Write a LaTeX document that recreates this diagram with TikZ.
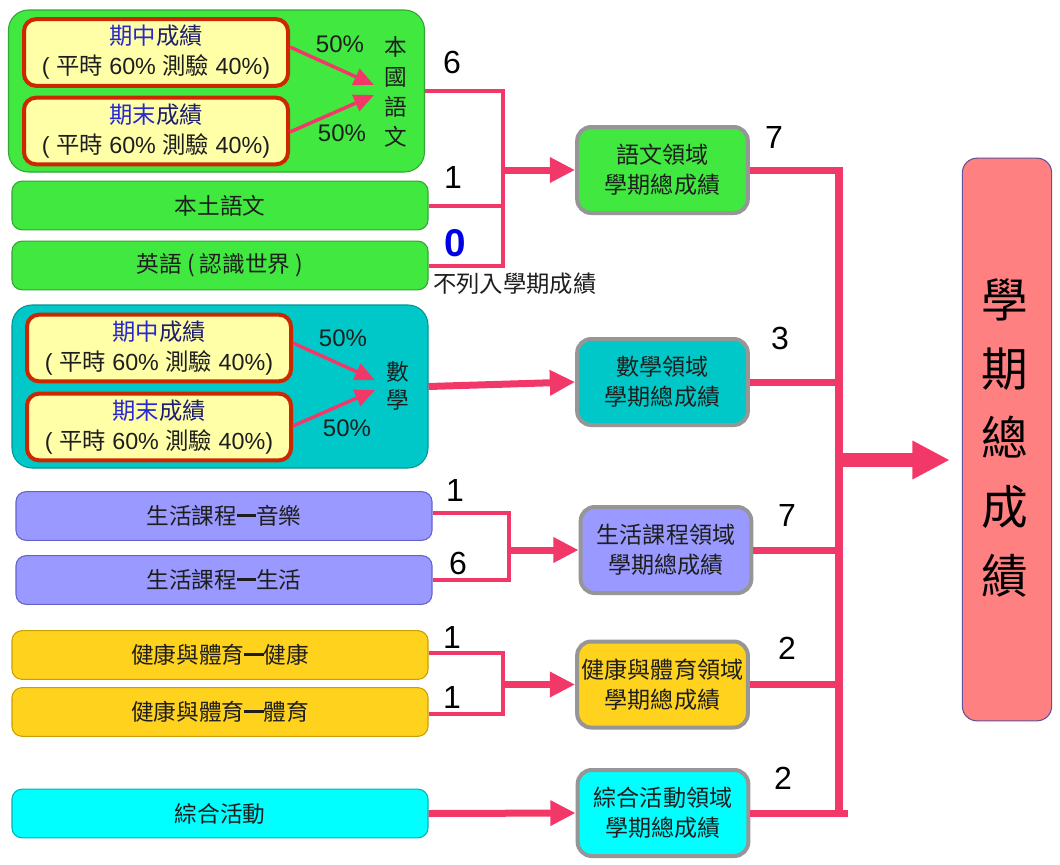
\documentclass[tikz,border=0pt]{standalone}
\usepackage{fontspec}
\setmainfont{Liberation Sans}
\newfontfamily\cjk{Noto Sans CJK TC}
\usetikzlibrary{arrows.meta,calc}
\newcommand{\C}[1]{{\cjk #1}}
\newcommand{\cdash}{\rule[0.33em]{0.85em}{0.13em}}
\definecolor{pk}{RGB}{242,56,104}
\definecolor{grn}{RGB}{64,232,64}
\definecolor{grnb}{RGB}{50,165,50}
\definecolor{teal1}{RGB}{0,200,200}
\definecolor{tealb}{RGB}{0,150,150}
\definecolor{lav}{RGB}{153,153,255}
\definecolor{lavb}{RGB}{100,100,200}
\definecolor{gold1}{RGB}{255,210,30}
\definecolor{goldb}{RGB}{200,160,0}
\definecolor{cyn}{RGB}{0,255,255}
\definecolor{cynb}{RGB}{0,180,180}
\definecolor{ylw}{RGB}{255,255,168}
\definecolor{redb}{RGB}{204,40,0}
\definecolor{grayb}{RGB}{150,150,150}
\definecolor{pinkbox}{RGB}{255,128,128}
\definecolor{pinkb}{RGB}{100,80,150}
\definecolor{txt}{RGB}{30,30,30}
\definecolor{blueA}{RGB}{40,40,210}
\definecolor{navyA}{RGB}{30,30,110}
\definecolor{zeroblue}{RGB}{0,0,230}
\newcommand{\gtitle}[2]{{\cjk\color{blueA}#1\color{navyA}#2}}
\begin{document}
\begin{tikzpicture}[x=0.75pt,y=-0.75pt,
  grp/.style={rounded corners=15pt, line width=0.8pt, minimum width=312pt, minimum height=121.5pt, inner sep=0pt},
  row/.style={rounded corners=7.5pt, line width=0.8pt, minimum width=312pt, minimum height=36.5pt, inner sep=0pt, text=txt, font=\fontsize{17}{20}\selectfont\cjk},
  ybox/.style={draw=redb, line width=3pt, fill=ylw, rounded corners=9pt, minimum width=198pt, minimum height=50pt, inner sep=0pt, align=center, text=txt, font=\fontsize{17.5}{22.5}\selectfont},
  dbox/.style={draw=grayb, line width=3pt, rounded corners=10.5pt, minimum width=128pt, minimum height=64.5pt, inner sep=0pt, align=center, text=txt, font=\fontsize{17.3}{22.5}\selectfont\cjk},
  pct/.style={font=\fontsize{18}{18}\selectfont, text=txt},
  vtxt/.style={align=center, text=txt, font=\fontsize{17}{22.5}\selectfont\cjk},
  num/.style={font=\fontsize{24}{24}\selectfont, text=black},
  brk/.style={draw=pk, line width=3pt},
  arr/.style={draw=pk, line width=5.25pt, -{Triangle[length=19pt,width=18pt]}},
  iarr/.style={draw=pk, line width=2.6pt, -{Triangle[length=15pt,width=13pt]}},
  outl/.style={draw=pk, line width=5.25pt},
  vert/.style={draw=pk, line width=6pt},
  bigarr/.style={draw=pk, line width=11pt, -{Triangle[length=28pt,width=27pt]}}
]
\useasboundingbox (0,0) rectangle (1060,864);
\fill[white] (0,0) rectangle (1060,864);

% language group
\node[grp, fill=grn, draw=grnb] (gbig) at (216.5,91) {};
\node[ybox] (y1) at (156,52.5) {\gtitle{期中}{成績}\\( \C{平時} 60\% \C{測驗} 40\%)};
\node[ybox] (y2) at (156,131) {\gtitle{期末}{成績}\\( \C{平時} 60\% \C{測驗} 40\%)};
\node[pct] (p1) at (340,44) {50\%};
\node[pct] (p2) at (342,133) {50\%};
\node[vtxt] (guo) at (396,92) {本\\國\\語\\文};
\coordinate (t1) at (374,85);
\coordinate (t2) at (374,95);
\draw[iarr] (y1.east |- 0,47) -- (t1);
\draw[iarr] (y2.east |- 0,132) -- (t2);
\node[row, fill=grn, draw=grnb] (bentu) at (220,205.5) {本土語文};
\node[row, fill=grn, draw=grnb] (eng) at (220,265.5) {英語 ( 認識世界 )};

% math group
\node[grp, fill=teal1, draw=tealb, minimum height=122.25pt] (mbig) at (220,386.5) {};
\node[ybox] (m1) at (159,348) {\gtitle{期中}{成績}\\( \C{平時} 60\% \C{測驗} 40\%)};
\node[ybox] (m2) at (159,427) {\gtitle{期末}{成績}\\( \C{平時} 60\% \C{測驗} 40\%)};
\node[pct] (p3) at (343,338) {50\%};
\node[pct] (p4) at (347,428) {50\%};
\node[vtxt, font=\fontsize{17}{21}\selectfont\cjk] (shu) at (398,386) {數\\學};
\coordinate (t3) at (375,380);
\coordinate (t4) at (375,390);
\draw[iarr] (m1.east |- 0,343) -- (t3);
\draw[iarr] (m2.east |- 0,426) -- (t4);

% life
\node[row, fill=lav, draw=lavb] (music) at (224,516) {生活課程\cdash 音樂};
\node[row, fill=lav, draw=lavb] (life) at (224,580) {生活課程\cdash 生活};

% health
\node[row, fill=gold1, draw=goldb] (h1) at (220,655) {健康與體育\cdash 健康};
\node[row, fill=gold1, draw=goldb] (h2) at (220,712) {健康與體育\cdash 體育};

% integrated
\node[row, fill=cyn, draw=cynb] (zh) at (220,813.5) {綜合活動};

% domain boxes
\node[dbox, fill=grn] (D1) at (662.5,170) {語文領域\\學期總成績};
\node[dbox, fill=teal1] (D2) at (662.5,382) {數學領域\\學期總成績};
\node[dbox, fill=lav] (D3) at (666,550) {生活課程領域\\學期總成績};
\node[dbox, fill=gold1] (D4) at (662.5,684.5) {健康與體育領域\\學期總成績};
\node[dbox, fill=cyn] (D5) at (663,813) {綜合活動領域\\學期總成績};

% final box
\node[draw=pinkb, line width=0.8pt, fill=pinkbox, rounded corners=11pt, minimum width=67pt, minimum height=422pt, inner sep=0pt] (big) at (1007,439.5) {};
\node[align=center, text=black, font=\fontsize{35}{51.75}\selectfont\cjk] (bigt) at (1005,438) {學\\期\\總\\成\\績};

% language bracket
\coordinate (jL) at (503,170);
\draw[brk] (gbig.east) -- (gbig.east -| jL) -- (eng.east -| jL) -- (eng.east);
\draw[brk] (bentu.east) -- (bentu.east -| jL);
\draw[arr] (jL) -- (D1.west);
\node[num] (n6) at (452,62) {6};
\node[num] (n1) at (453,177) {1};
\node[font=\fontsize{29}{29}\selectfont\bfseries, text=zeroblue] (n0) at (455,243) {0};
\node[anchor=west, inner sep=0pt, text=txt, font=\fontsize{17.5}{20}\selectfont\cjk] (bl) at (433,284) {不列入學期成績};

% math
\draw[arr] (mbig.east) -- (D2.west);

% life bracket
\coordinate (jS) at (509,550);
\draw[brk] (music.east |- 0,513) -- (jS |- 0,513) -- (jS |- life.east) -- (life.east);
\draw[arr] (jS) -- (D3.west);
\node[num] (n1b) at (455,490) {1};
\node[num] (n6b) at (458,563) {6};

% health bracket
\coordinate (jH) at (503,684.5);
\draw[brk] (h1.east |- 0,653) -- (jH |- 0,653) -- (jH |- 0,714) -- (h2.east |- 0,714);
\draw[arr] (jH) -- (D4.west);
\node[num] (n1c) at (452,637) {1};
\node[num] (n1d) at (452,697) {1};

% integrated
\draw[arr] (zh.east) -- (D5.west);

% outputs
\coordinate (jV) at (839,460);
\draw[vert] ($(D1.east -| jV)+(0,-3.5)$) -- (D5.east -| jV);
\draw[outl] (D1.east) -- ($(D1.east -| jV)+(4,0)$);
\draw[outl] (D2.east) -- (D2.east -| jV);
\draw[outl] (D3.east) -- (D3.east -| jV);
\draw[outl] (D4.east) -- (D4.east -| jV);
\draw[outl] (D5.east) -- ($(D5.east -| jV)+(9,0)$);
\draw[bigarr] (jV) -- ($(jV -| big.west)+(-12,0)$);
\node[num] (o1) at (774,137) {7};
\node[num] (o2) at (780,338) {3};
\node[num] (o3) at (787,515) {7};
\node[num] (o4) at (787,648) {2};
\node[num] (o5) at (783,778) {2};
\end{tikzpicture}
\end{document}
